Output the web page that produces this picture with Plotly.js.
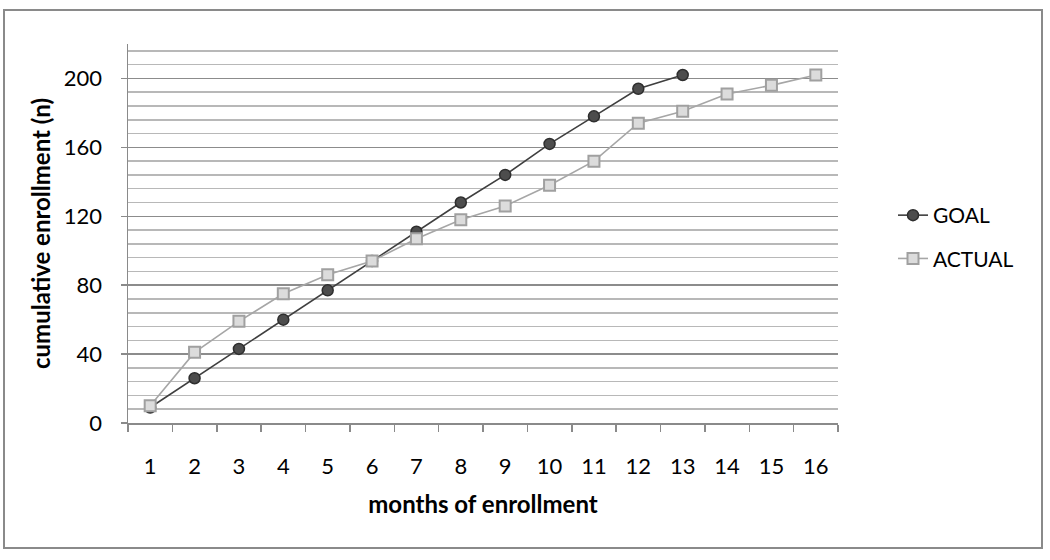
<!DOCTYPE html>
<html>
<head>
<meta charset="utf-8">
<script src="https://cdn.plot.ly/plotly-3.0.1.min.js"></script>
<style>
  html, body { margin: 0; padding: 0; background: #ffffff; }
  #chart { width: 1050px; height: 560px; }
</style>
</head>
<body>
<div id="chart"></div>
<script>
// ---- data ----
const months = ["1","2","3","4","5","6","7","8","9","10","11","12","13","14","15","16"];
const goalMonths = ["1","2","3","4","5","6","7","8","9","10","11","12","13"];
const goalValues = [9, 26, 43, 60, 77, 94, 111, 128, 144, 162, 178, 194, 202];
const actualMonths = months;
const actualValues = [10, 41, 59, 75, 86, 94, 107, 118, 126, 138, 152, 174, 181, 191, 196, 202];
const seriesNames = ["GOAL", "ACTUAL"];
const xTitle = "months of enrollment";
const yTitle = "cumulative enrollment (n)";

const FONT = "Lato, 'Open Sans', sans-serif";

const traces = [
  {
    x: goalMonths, y: goalValues, name: seriesNames[0], legendgroup: "g1",
    type: "scatter", mode: "lines+markers",
    line: { color: "#3f3f3f", width: 1.6 },
    marker: { symbol: "circle", size: 11, color: "#4d4d4d", line: { color: "#2e2e2e", width: 1.5 } }
  },
  {
    x: actualMonths, y: actualValues, name: seriesNames[1], legendgroup: "g2",
    type: "scatter", mode: "lines+markers",
    line: { color: "#a6a6a6", width: 1.6 },
    marker: { symbol: "square", size: 11, color: "#dcdcdc", line: { color: "#a0a0a0", width: 2 } }
  }
];

const L = 128, R = 838, T = 44, B = 423;
const W = R - L, H = B - T;
function px(x) { return (x - L) / W; }
function py(y) { return (B - y) / H; }

const layout = {
  width: 1050, height: 560,
  margin: { l: L, r: 1050 - R, t: T, b: 560 - B, pad: 0 },
  paper_bgcolor: "#ffffff", plot_bgcolor: "#ffffff",
  font: { family: FONT, color: "#000000", size: 22 },
  showlegend: true,
  legend: {
    x: px(893), xanchor: "left", y: py(237), yanchor: "middle",
    font: { family: FONT, size: 21, color: "#000000" },
    traceorder: "grouped", tracegroupgap: 13,
    bgcolor: "rgba(0,0,0,0)", borderwidth: 0
  },
  xaxis: {
    type: "category",
    categoryorder: "array", categoryarray: months,
    range: [-0.5, months.length - 0.5],
    tickson: "boundaries",
    ticks: "outside", ticklen: 7, tickwidth: 1.5, tickcolor: "#8a8a8a",
    showline: true, linecolor: "#8a8a8a", linewidth: 1.5,
    showgrid: false, zeroline: false,
    tickfont: { family: FONT, size: 22, color: "#000000" },
    ticklabelstandoff: 23,
    title: { text: xTitle, font: { family: FONT, size: 24, color: "#000000", weight: "bold" }, standoff: 18 },
    fixedrange: true
  },
  yaxis: {
    range: [0, 220],
    tickmode: "linear", tick0: 0, dtick: 40,
    ticks: "outside", ticklen: 6, tickwidth: 1.5, tickcolor: "#8a8a8a",
    showline: true, linecolor: "#8a8a8a", linewidth: 1.5,
    showgrid: true, gridcolor: "#8c8c8c", gridwidth: 1.5,
    minor: { dtick: 8, showgrid: true, gridcolor: "#b8b8b8", gridwidth: 1.5, ticks: "" },
    zeroline: false,
    tickfont: { family: FONT, size: 22, color: "#000000" },
    ticklabelstandoff: 14,
    title: { text: yTitle, font: { family: FONT, size: 24, color: "#000000", weight: "bold" }, standoff: 6 },
    fixedrange: true
  },
  shapes: [
    {
      type: "rect", xref: "paper", yref: "paper",
      x0: px(4), x1: px(1042), y0: py(548), y1: py(10),
      line: { color: "#8a8a8a", width: 2 }, fillcolor: "rgba(0,0,0,0)", layer: "below"
    }
  ]
};

Plotly.newPlot("chart", traces, layout, { displayModeBar: false, staticPlot: true });
</script>
</body>
</html>
